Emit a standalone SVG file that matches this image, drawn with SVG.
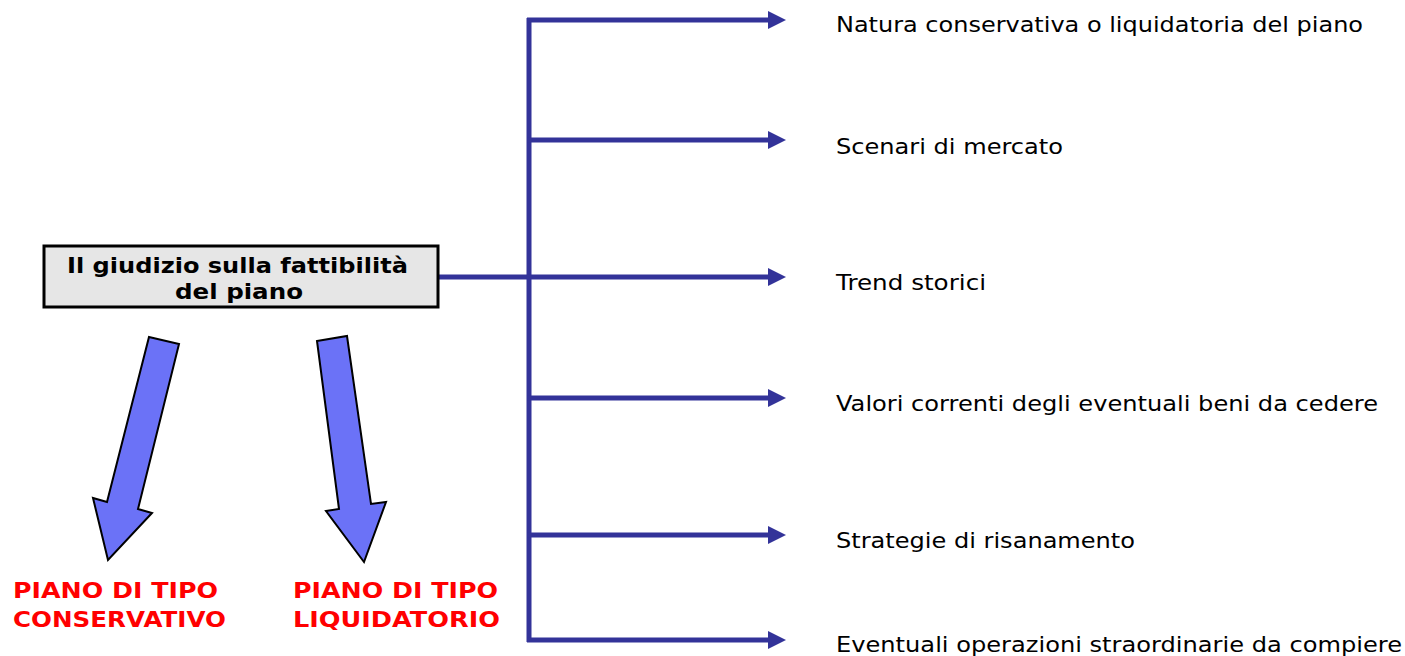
<svg xmlns="http://www.w3.org/2000/svg" width="1405" height="656" viewBox="0 0 1405 656">
<defs>
<style>
.lbl{font-family:"DejaVu Sans",Verdana,sans-serif;font-size:21.5px;fill:#000}
.box{fill:#e6e6e6;stroke:#000;stroke-width:3}
.boxt{font-family:"DejaVu Sans",Verdana,sans-serif;font-size:22px;font-weight:bold;fill:#000}
.red{font-family:"DejaVu Sans",Verdana,sans-serif;font-size:22px;font-weight:bold;fill:#ff0000}
.ln{stroke:#333399;stroke-width:5;fill:none}
.bar{fill:#6b72f7;stroke:#000;stroke-width:2;stroke-linejoin:miter}
</style>
<marker id="ah" markerUnits="userSpaceOnUse" markerWidth="20" markerHeight="18" refX="0" refY="9" orient="auto">
<path d="M0,0 L18,9 L0,18 Z" fill="#333399"/>
</marker>
</defs>
<rect width="1405" height="656" fill="#fff"/>
<g id="connectors">
<line class="ln" x1="438" y1="277" x2="529" y2="277"/>
<line class="ln" x1="529" y1="18" x2="529" y2="642"/>
<line class="ln" x1="527" y1="20" x2="768" y2="20" marker-end="url(#ah)"/>
<line class="ln" x1="527" y1="140" x2="768" y2="140" marker-end="url(#ah)"/>
<line class="ln" x1="527" y1="277" x2="768" y2="277" marker-end="url(#ah)"/>
<line class="ln" x1="527" y1="398" x2="768" y2="398" marker-end="url(#ah)"/>
<line class="ln" x1="527" y1="535" x2="768" y2="535" marker-end="url(#ah)"/>
<line class="ln" x1="527" y1="640" x2="768" y2="640" marker-end="url(#ah)"/>
</g>
<g id="main">
<rect class="box" x="44" y="246" width="394" height="61"/>
<text class="boxt" x="67" y="273" textLength="341" lengthAdjust="spacingAndGlyphs">Il giudizio sulla fattibilità</text>
<text class="boxt" x="175" y="299" textLength="128" lengthAdjust="spacingAndGlyphs">del piano</text>
</g>
<g id="arrow-conservativo">
<polygon class="bar" points="149,337 179,344 138,509 152,513 108,560 93,498 107,502"/>
</g>
<g id="arrow-liquidatorio">
<polygon class="bar" points="317,341 347,336 371,504 386,502 364,562 326,511 339,509"/>
</g>
<g id="conservativo">
<text class="red" x="13" y="598" textLength="205" lengthAdjust="spacingAndGlyphs">PIANO DI TIPO</text>
<text class="red" x="13" y="627" textLength="213" lengthAdjust="spacingAndGlyphs">CONSERVATIVO</text>
</g>
<g id="liquidatorio">
<text class="red" x="293" y="598" textLength="205" lengthAdjust="spacingAndGlyphs">PIANO DI TIPO</text>
<text class="red" x="293" y="627" textLength="207" lengthAdjust="spacingAndGlyphs">LIQUIDATORIO</text>
</g>
<g id="n1"><text class="lbl" x="836" y="32" textLength="527" lengthAdjust="spacingAndGlyphs">Natura conservativa o liquidatoria del piano</text></g>
<g id="n2"><text class="lbl" x="836" y="154" textLength="227" lengthAdjust="spacingAndGlyphs">Scenari di mercato</text></g>
<g id="n3"><text class="lbl" x="836" y="290" textLength="150" lengthAdjust="spacingAndGlyphs">Trend storici</text></g>
<g id="n4"><text class="lbl" x="836" y="411" textLength="542" lengthAdjust="spacingAndGlyphs">Valori correnti degli eventuali beni da cedere</text></g>
<g id="n5"><text class="lbl" x="836" y="548" textLength="299" lengthAdjust="spacingAndGlyphs">Strategie di risanamento</text></g>
<g id="n6"><text class="lbl" x="836" y="652" textLength="566" lengthAdjust="spacingAndGlyphs">Eventuali operazioni straordinarie da compiere</text></g>
</svg>
